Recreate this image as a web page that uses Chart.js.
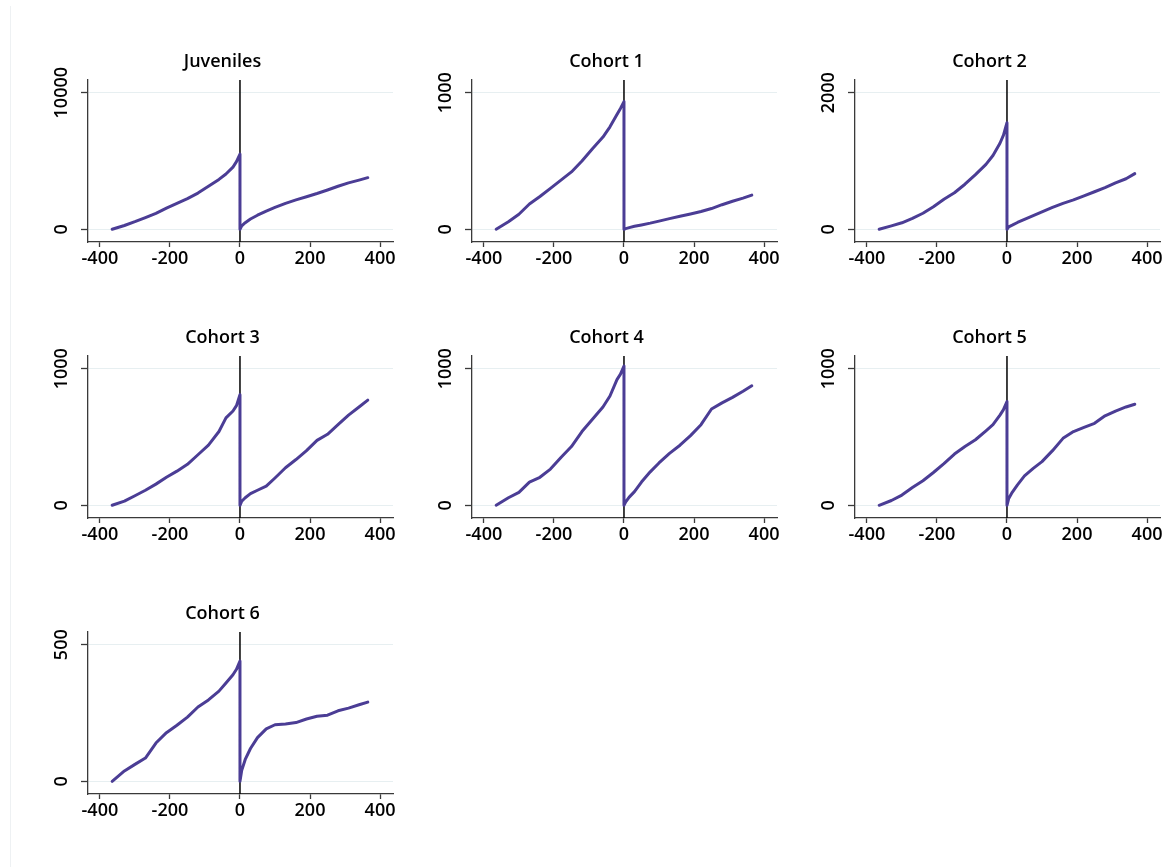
<!DOCTYPE html>
<html>
<head>
<meta charset="utf-8">
<script src="https://cdn.jsdelivr.net/npm/chart.js@4"></script>
<style>
    html, body { margin: 0; padding: 0; background: #ffffff; }
    #page { position: relative; width: 1166px; height: 867px; overflow: hidden; background: #ffffff; }
    #edge { position: absolute; left: 10px; top: 6px; bottom: 0; width: 1px; background: #eef1f3; }
    #page canvas { position: absolute; }
</style>
</head>
<body>
<div id="page"><div id="edge"></div></div>
<script>
/* =========================
   DATA
========================= */

const titles = ["Juveniles", "Cohort 1", "Cohort 2", "Cohort 3", "Cohort 4", "Cohort 5", "Cohort 6"];

const xTicks = [-400, -200, 0, 200, 400];
const yTopTicks = [10000, 1000, 2000, 1000, 1000, 1000, 500];
const eventDay = 0;

// days relative to the event, before and after
const preDays  = [-365, -330, -300, -270, -240, -210, -180, -150, -120, -90, -60, -40, -20, -10, 0];
const postDays = [0, 5, 15, 30, 50, 75, 100, 130, 160, 190, 220, 250, 280, 310, 340, 365];

const juvenilesPre  = [0, 280, 560, 860, 1170, 1550, 1900, 2250, 2650, 3150, 3650, 4050, 4550, 4950, 5500];
const juvenilesPost = [0, 250, 480, 750, 1030, 1330, 1600, 1900, 2150, 2380, 2620, 2880, 3150, 3400, 3600, 3780];

const cohort1Pre  = [0, 55, 110, 185, 240, 300, 360, 420, 500, 590, 675, 750, 840, 885, 935];
const cohort1Post = [0, 5, 12, 22, 32, 45, 60, 78, 95, 112, 130, 152, 180, 205, 228, 250];

const cohort2Pre  = [0, 50, 95, 160, 235, 330, 440, 535, 660, 800, 950, 1080, 1260, 1380, 1560];
const cohort2Post = [0, 35, 60, 100, 145, 200, 255, 320, 380, 430, 490, 550, 610, 680, 740, 815];

const cohort3Pre  = [0, 30, 70, 110, 155, 205, 250, 300, 370, 440, 540, 640, 690, 730, 810];
const cohort3Post = [0, 30, 55, 85, 110, 140, 200, 275, 335, 400, 475, 520, 590, 660, 720, 770];

const cohort4Pre  = [0, 55, 95, 170, 205, 265, 350, 430, 540, 630, 720, 800, 920, 960, 1020];
const cohort4Post = [0, 25, 60, 100, 170, 245, 310, 380, 440, 510, 590, 705, 750, 790, 835, 875];

const cohort5Pre  = [0, 35, 75, 130, 180, 240, 305, 375, 430, 480, 545, 590, 660, 700, 760];
const cohort5Post = [0, 50, 95, 150, 215, 270, 320, 400, 490, 540, 570, 600, 655, 690, 720, 740];

const cohort6Pre  = [0, 38, 62, 85, 140, 178, 205, 235, 272, 298, 330, 360, 390, 410, 440];
const cohort6Post = [0, 40, 80, 120, 160, 192, 207, 210, 215, 228, 238, 242, 258, 268, 280, 290];

const preSeries  = [juvenilesPre, cohort1Pre, cohort2Pre, cohort3Pre, cohort4Pre, cohort5Pre, cohort6Pre];
const postSeries = [juvenilesPost, cohort1Post, cohort2Post, cohort3Post, cohort4Post, cohort5Post, cohort6Post];

/* =========================
   LAYOUT / STYLE
========================= */

const LINE_COLOR = "#4b3d95";
const AXIS_COLOR = "#3a3a3a";
const GRID_COLOR = "#e7eff1";
const FONT = "'Open Sans', 'DejaVu Sans', sans-serif";
const FONT_SIZE = 18;

const colAxisX = [88, 471.7, 855];
const rowTop = [80, 355.5, 631.5];

const CANVAS_W = 371;
const CANVAS_H = 240;
const PAD_LEFT = 24;
const Y_W = 36;

Chart.defaults.font.family = FONT;
Chart.defaults.color = "#000";

// vertical event line + rotated y labels
const panelExtras = {
    id: "panelExtras",
    beforeDatasetsDraw(chart) {
        const { ctx, chartArea, scales } = chart;
        const x = scales.x.getPixelForValue(eventDay);
        ctx.save();
        ctx.strokeStyle = "#000";
        ctx.lineWidth = 1.5;
        ctx.beginPath();
        ctx.moveTo(x, chartArea.top);
        ctx.lineTo(x, chartArea.bottom);
        ctx.stroke();
        ctx.restore();
    },
    afterDraw(chart) {
        const { ctx, scales } = chart;
        const y = scales.y;
        ctx.save();
        ctx.fillStyle = "#000";
        ctx.font = "600 " + FONT_SIZE + "px " + FONT;
        ctx.textAlign = "center";
        ctx.textBaseline = "middle";
        y.ticks.forEach(t => {
            ctx.save();
            ctx.translate(y.right - 26, y.getPixelForValue(t.value));
            ctx.rotate(-Math.PI / 2);
            ctx.fillText(String(t.value), 0, 0);
            ctx.restore();
        });
        ctx.restore();
    }
};

/* =========================
   PANELS
========================= */

const page = document.getElementById("page");

titles.forEach((title, i) => {

    const col = i % 3;
    const row = Math.floor(i / 3);

    const canvas = document.createElement("canvas");
    canvas.width = CANVAS_W;
    canvas.height = CANVAS_H;
    canvas.style.left = (colAxisX[col] - PAD_LEFT - Y_W) + "px";
    canvas.style.top = (rowTop[row] - 40) + "px";
    page.appendChild(canvas);

    const points = [];
    preDays.forEach((d, k) => points.push({ x: d, y: preSeries[i][k] }));
    postDays.forEach((d, k) => points.push({ x: d, y: postSeries[i][k] }));

    const top = yTopTicks[i];

    new Chart(canvas, {
        type: "line",
        data: {
            datasets: [{
                data: points,
                borderColor: LINE_COLOR,
                borderWidth: 3,
                pointRadius: 0,
                tension: 0,
                borderJoinStyle: "round",
                borderCapStyle: "round"
            }]
        },
        options: {
            responsive: false,
            animation: false,
            events: [],
            layout: { padding: { left: PAD_LEFT, right: 6, top: 0, bottom: 0 } },
            plugins: {
                legend: { display: false },
                tooltip: { enabled: false },
                title: {
                    display: true,
                    text: title,
                    color: "#000",
                    font: { size: FONT_SIZE, weight: "600", family: FONT },
                    padding: { top: 10.9, bottom: 7.5 }
                }
            },
            scales: {
                x: {
                    type: "linear",
                    min: -434,
                    max: 437,
                    afterBuildTicks: s => { s.ticks = xTicks.map(v => ({ value: v })); },
                    afterFit: s => { s.height = 38; },
                    ticks: {
                        color: "#000",
                        padding: 1.2,
                        maxRotation: 0,
                        font: { size: FONT_SIZE, weight: "600" }
                    },
                    grid: {
                        drawOnChartArea: false,
                        drawTicks: true,
                        tickLength: 5,
                        tickColor: AXIS_COLOR,
                        tickWidth: 1.3
                    },
                    border: { color: AXIS_COLOR, width: 1.3 }
                },
                y: {
                    min: -0.093 * top,
                    max: 1.093 * top,
                    afterBuildTicks: s => { s.ticks = [0, top].map(v => ({ value: v })); },
                    afterFit: s => { s.width = Y_W; },
                    ticks: { display: false },
                    grid: {
                        color: GRID_COLOR,
                        lineWidth: 1,
                        drawTicks: true,
                        tickLength: 7,
                        tickColor: AXIS_COLOR,
                        tickWidth: 1.3
                    },
                    border: { color: AXIS_COLOR, width: 1.3 }
                }
            }
        },
        plugins: [panelExtras]
    });
});
</script>
</body>
</html>
